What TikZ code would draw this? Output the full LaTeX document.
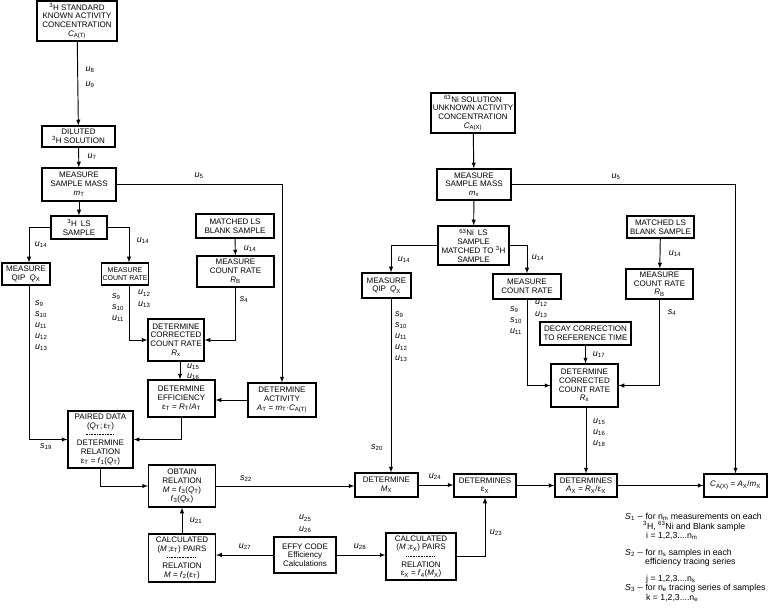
\documentclass[tikz,border=0pt]{standalone}
\usepackage{fontspec}
\setmainfont{Liberation Sans}
\usetikzlibrary{arrows,positioning}

\newcommand{\sym}[2]{\textit{#1}\textsubscript{#2}}
\newcommand{\eps}[1]{ε\textsubscript{#1}}
\newcommand{\dashrule}{\hbox to 30pt{\leaders\hbox to 1.6pt{\hss\rule[2.4pt]{0.9pt}{0.5pt}\hss}\hfill}}

\begin{document}
\begin{tikzpicture}[
    x=1pt, y=-1pt,
    box/.style={rectangle, draw, line width=1.2pt, align=center, inner sep=1pt, font=\fontsize{8}{8.7}\selectfont},
    sz/.style 2 args={minimum width=#1pt, minimum height=#2pt},
    arrow/.style={->, >=latex, line width=0.95pt},
    lbl/.style={font=\fontsize{9}{10}\selectfont, inner sep=0pt},
    lblstack/.style={inner sep=0pt, align=left, anchor=north west, font=\fontsize{9}{11.2}\selectfont},
    legendtxt/.style={anchor=west, inner sep=0pt, font=\fontsize{8.7}{10}\selectfont}
]
\useasboundingbox (0,0) rectangle (770,609);

% Tritium standard
\node[box, sz={80}{40}] (stdT) at (77,21) {\textsuperscript{3}H STANDARD\\KNOWN ACTIVITY\\CONCENTRATION\\\sym{C}{A(T)}};
\node[box, sz={73}{21}] (dilT) at (78.5,136.5) {DILUTED\\\textsuperscript{3}H SOLUTION};
\node[box, sz={74}{33}] (massT) at (79,184.5) {MEASURE\\SAMPLE MASS\\\sym{m}{T}};
\node[box, sz={56}{23}] (lsT) at (79,227.5) {\textsuperscript{3}H\enspace LS\\SAMPLE};
\node[box, sz={48}{22}] (qipT) at (26,274) {MEASURE\\QIP\enspace\sym{Q}{X}};
\node[box, sz={46}{22}, font=\fontsize{7}{8.7}\selectfont] (crT) at (125,274) {MEASURE\\COUNT RATE};
\node[box, sz={78}{24}] (blkT) at (235,226) {MATCHED LS\\BLANK SAMPLE};
\node[box, sz={77}{31}] (rbT) at (235.5,271.5) {MEASURE\\COUNT RATE\\\sym{R}{B}};
\node[box, sz={56}{42}] (corT) at (176,340) {DETERMINE\\CORRECTED\\COUNT RATE\\\sym{R}{x}};
\node[box, sz={67}{37}] (effT) at (181.5,398.5) {DETERMINE\\EFFICIENCY\\\eps{T} = \sym{R}{T}/\sym{A}{T}};
\node[box, sz={68}{34}] (actT) at (282,400) {DETERMINE\\ACTIVITY\\\sym{A}{T} = \sym{m}{T}·\sym{C}{A(T)}};
\node[box, sz={65}{57}] (paired) at (100.5,439.5) {PAIRED DATA\\(\sym{Q}{T};\,\eps{T})\\\dashrule\\DETERMINE\\RELATION\\\eps{T} = \sym{f}{1}(\sym{Q}{T})};

% Relations
\node[box, sz={67}{42}] (obtain) at (182,486) {OBTAIN\\RELATION\\\textit{M} = \sym{f}{3}(\sym{Q}{T})\\\sym{f}{3}(\sym{Q}{X})};
\node[box, sz={67}{48}] (calcT) at (182,558) {CALCULATED\\(\textit{M}\,;\eps{T}) PAIRS\\\dashrule\\RELATION\\\textit{M} = \sym{f}{2}(\eps{T})};
\node[box, sz={62}{36}] (effy) at (305,555) {EFFY CODE\\Efficiency\\Calculations};
\node[box, sz={70}{47}] (calcX) at (421,556.5) {CALCULATED\\(\textit{M}\,;\eps{X}) PAIRS\\\dashrule\\RELATION\\\eps{X} = \sym{f}{4}(\sym{M}{X})};

% Nickel sample
\node[box, sz={84}{40}] (stdX) at (473,113) {\textsuperscript{63}Ni SOLUTION\\UNKNOWN ACTIVITY\\CONCENTRATION\\\sym{C}{A(X)}};
\node[box, sz={74}{31}] (massX) at (474,184.5) {MEASURE\\SAMPLE MASS\\\sym{m}{x}};
\node[box, sz={71}{39}] (lsX) at (473.5,245.5) {\textsuperscript{63}Ni\enspace LS\\SAMPLE\\MATCHED TO \textsuperscript{3}H\\SAMPLE};
\node[box, sz={49}{25}] (qipX) at (386.5,285.5) {MEASURE\\QIP\enspace\sym{Q}{X}};
\node[box, sz={68}{25}] (crX) at (527,286.5) {MEASURE\\COUNT RATE};
\node[box, sz={67}{22}] (blkX) at (660.5,227) {MATCHED LS\\BLANK SAMPLE};
\node[box, sz={67}{30}] (rbX) at (659.5,284) {MEASURE\\COUNT RATE\\\sym{R}{B}};
\node[box, sz={91}{23}] (decay) at (585.5,333.5) {DECAY CORRECTION\\TO REFERENCE TIME};
\node[box, sz={67}{43}] (corX) at (584.5,385.5) {DETERMINE\\CORRECTED\\COUNT RATE\\\sym{R}{x}};
\node[box, sz={63}{24}] (detM) at (386.5,485) {DETERMINE\\\sym{M}{X}};
\node[box, sz={62}{23}] (detE) at (485,485.5) {DETERMINES\\\eps{X}};
\node[box, sz={62}{23}] (detA) at (586,485.5) {DETERMINES\\\sym{A}{X} = \sym{R}{X}/\eps{X}};
\node[box, sz={63}{23}] (conc) at (735.5,485.5) {\sym{C}{A(X)} = \sym{A}{X}/\sym{m}{X}};

% Arrows, tritium side
\draw[arrow] (stdT) -- (dilT);
\draw[arrow] (dilT) -- (massT);
\draw[arrow] (massT.east) -| (actT.north);
\draw[arrow] (massT) -- (lsT);
\draw[arrow] (lsT.west) -| ([xshift=3pt]qipT.north);
\draw[arrow] (lsT.east) -| ([xshift=4pt]crT.north);
\draw[arrow] (blkT) -- (rbT);
\draw[arrow] (rbT.south) |- (corT.east);
\draw[arrow] ([xshift=4pt]crT.south) |- (corT.west);
\draw[arrow] ([xshift=4pt]corT.south) -- ([xshift=4pt]corT.south |- effT.north);
\draw[arrow] (actT.west) -- (actT.west -| effT.east);
\draw[arrow] (effT.south) |- (paired.east);
\draw[arrow] ([xshift=3pt]qipT.south) |- (paired.west);
\draw[arrow] (paired.south) |- (obtain.west);

% Arrows, relations
\draw[arrow] (obtain.east) -- (obtain.east -| detM.west);
\draw[arrow] (calcT) -- (obtain);
\draw[arrow] (effy.west) -- (effy.west -| calcT.east);
\draw[arrow] (effy.east) -- (effy.east -| calcX.west);
\draw[arrow] (calcX.east) -| (detE.south);

% Arrows, nickel side
\draw[arrow] (stdX) -- (massX);
\draw[arrow] (massX.east) -| (conc.north);
\draw[arrow] (massX) -- (lsX);
\draw[arrow] (lsX.west) -| ([xshift=4.5pt]qipX.north);
\draw[arrow] (lsX.east) -| (crX.north);
\draw[arrow] (blkX) -- (rbX);
\draw[arrow] (rbX.south) |- (corX.east);
\draw[arrow] (crX.south) |- (corX.west);
\draw[arrow] (decay.south) -- (decay.south |- corX.north);
\draw[arrow] (corX.south -| detA.north) -- (detA.north);
\draw[arrow] ([xshift=4.5pt]qipX.south) -- ([xshift=4.5pt]detM.north);
\draw[arrow] (detM.east) -- (detM.east -| detE.west);
\draw[arrow] (detE) -- (detA);
\draw[arrow] (detA) -- (conc);

% Uncertainty labels
\node[lbl] at (90,70) {\sym{u}{8}};
\node[lbl] at (90,85) {\sym{u}{9}};
\node[lbl] at (92,157) {\sym{u}{7}};
\node[lbl] at (199,176) {\sym{u}{5}};
\node[lbl] at (41,245) {\sym{u}{14}};
\node[lbl] at (143,241) {\sym{u}{14}};
\node[lbl] at (250,249) {\sym{u}{14}};
\node[lbl] at (244,300) {\sym{s}{4}};
\node[lblstack] at (35,300) {\sym{s}{9}\\\sym{s}{10}\\\sym{u}{11}\\\sym{u}{12}\\\sym{u}{13}};
\node[lblstack] at (112,293) {\sym{s}{9}\\\sym{s}{10}\\\sym{u}{11}};
\node[lblstack] at (138,290) {\sym{u}{12}\\\sym{u}{13}};
\node[lblstack, font=\fontsize{9}{9.5}\selectfont] at (187,364) {\sym{u}{15}\\\sym{u}{16}};
\node[lbl] at (46,447) {\sym{s}{19}};
\node[lbl] at (246,479) {\sym{s}{22}};
\node[lbl] at (196,521) {\sym{u}{21}};
\node[lbl] at (245,547) {\sym{u}{27}};
\node[lblstack] at (299,515) {\sym{u}{25}\\\sym{u}{26}};
\node[lbl] at (360,547) {\sym{u}{28}};
\node[lbl] at (404,260) {\sym{u}{14}};
\node[lblstack] at (395,311) {\sym{s}{9}\\\sym{s}{10}\\\sym{u}{11}\\\sym{u}{12}\\\sym{u}{13}};
\node[lbl] at (538,258) {\sym{u}{14}};
\node[lbl] at (616,177) {\sym{u}{5}};
\node[lbl] at (675,254) {\sym{u}{14}};
\node[lbl] at (672,313) {\sym{s}{4}};
\node[lblstack] at (510,306) {\sym{s}{9}\\\sym{s}{10}\\\sym{u}{11}};
\node[lblstack] at (535,300) {\sym{u}{12}\\\sym{u}{13}};
\node[lbl] at (599,355) {\sym{u}{17}};
\node[lblstack, font=\fontsize{9}{10.7}\selectfont] at (593,419) {\sym{u}{15}\\\sym{u}{16}\\\sym{u}{18}};
\node[lbl] at (377,448) {\sym{s}{20}};
\node[lbl] at (435,477) {\sym{u}{24}};
\node[lbl] at (496,533) {\sym{u}{23}};

% Index legend
\node[legendtxt] at (625,517) {\sym{S}{1} -{}- for n\textsubscript{m} measurements on each};
\node[legendtxt] at (643,526) {\textsuperscript{3}H, \textsuperscript{63}Ni and Blank sample};
\node[legendtxt] at (646,536) {i = 1,2,3....n\textsubscript{m}};
\node[legendtxt] at (625,553) {\sym{S}{2} -{}- for n\textsubscript{s} samples in each};
\node[legendtxt] at (645,562) {efficiency tracing series};
\node[legendtxt] at (646,579) {j = 1,2,3....n\textsubscript{s}};
\node[legendtxt] at (625,588) {\sym{S}{3} -{}- for n\textsubscript{e} tracing series of samples};
\node[legendtxt] at (646,598) {k = 1,2,3....n\textsubscript{e}};

\end{tikzpicture}
\end{document}
